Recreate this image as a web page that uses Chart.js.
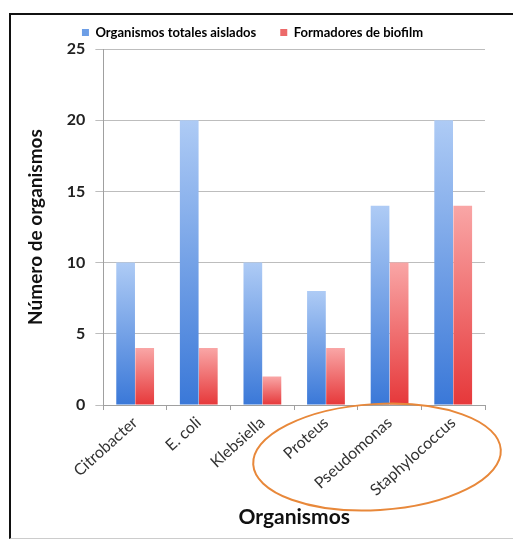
<!DOCTYPE html>
<html>
<head>
<meta charset="utf-8">
<script src="https://cdn.jsdelivr.net/npm/chart.js@4.4.0/dist/chart.umd.min.js"></script>
<style>
  html, body { margin: 0; padding: 0; background: #ffffff; }
  #wrap { position: relative; width: 513px; height: 542px; }
  #frame {
    position: absolute; left: 9px; top: 13px; right: -4px; bottom: 3px;
    border-left: 2px solid #111; border-top: 2px solid #111; border-bottom: 1px solid #ccc;
  }
  canvas { position: absolute; left: 0; top: 0; }
</style>
</head>
<body>
<div id="wrap">
  <div id="frame"></div>
  <canvas id="chart" width="513" height="542"></canvas>
</div>
<script>
// Chart data
const categories = ['Citrobacter', 'E. coli', 'Klebsiella', 'Proteus', 'Pseudomonas', 'Staphylococcus'];
const totalIsolated = [10, 20, 10, 8, 14, 20];
const biofilmFormers = [4, 4, 2, 4, 10, 14];
const yTicks = [0, 5, 10, 15, 20, 25];

const FONT = "Lato, 'Open Sans', sans-serif";

// vertical gradient per bar, light at the bar top
function barGradient(ctx, top, bottom) {
  const chart = ctx.chart;
  const y = chart.scales.y;
  if (!chart.chartArea || !y || ctx.raw === undefined) return bottom;
  const y0 = y.getPixelForValue(ctx.raw);
  const y1 = y.getPixelForValue(0);
  const g = chart.ctx.createLinearGradient(0, y0, 0, y1);
  g.addColorStop(0, top);
  g.addColorStop(1, bottom);
  return g;
}

// orange ellipse round the last three labels
const ellipsePlugin = {
  id: 'ellipse',
  afterDraw(chart) {
    const area = chart.chartArea;
    const c = chart.ctx;
    c.save();
    c.beginPath();
    c.ellipse(area.right - 108, area.bottom + 52, 124, 53, -0.06, 0, Math.PI * 2);
    c.strokeStyle = '#e8883a';
    c.lineWidth = 2;
    c.stroke();
    c.restore();
  }
};

new Chart(document.getElementById('chart').getContext('2d'), {
  type: 'bar',
  data: {
    labels: categories,
    datasets: [{
      label: 'Organismos totales aislados',
      data: totalIsolated,
      backgroundColor: ctx => barGradient(ctx, '#aecbf5', '#3a78d8'),
      borderWidth: 0,
      barPercentage: 0.98,
      categoryPercentage: 0.6
    }, {
      label: 'Formadores de biofilm',
      data: biofilmFormers,
      backgroundColor: ctx => barGradient(ctx, '#f9a6a6', '#e6383a'),
      borderWidth: 0,
      barPercentage: 0.98,
      categoryPercentage: 0.6
    }]
  },
  options: {
    responsive: false,
    animation: false,
    layout: { padding: { left: 20, right: 28, top: 2, bottom: 8 } },
    plugins: {
      legend: {
        position: 'top',
        labels: {
          boxWidth: 7,
          boxHeight: 7,
          padding: 24,
          color: '#222',
          font: { family: FONT, size: 13, weight: 'bold' },
          generateLabels(chart) {
            const cols = ['#6d9ee6', '#ec6a6a'];
            return chart.data.datasets.map((ds, i) => ({
              text: ds.label,
              fillStyle: cols[i],
              strokeStyle: cols[i],
              lineWidth: 0,
              datasetIndex: i
            }));
          }
        }
      },
      tooltip: { enabled: false }
    },
    scales: {
      y: {
        min: 0,
        max: 25,
        afterBuildTicks: axis => { axis.ticks = yTicks.map(v => ({ value: v })); },
        grid: { color: '#bdbdbd', lineWidth: 1, tickLength: 8, drawTicks: true },
        border: { color: '#a0a0a0', width: 1 },
        ticks: {
          color: '#222',
          padding: 10,
          font: { family: FONT, size: 16, weight: 'bold' }
        },
        title: {
          display: true,
          text: 'Número de organismos',
          color: '#111',
          padding: { bottom: 10 },
          font: { family: FONT, size: 19, weight: 'bold' }
        }
      },
      x: {
        grid: { display: true, drawOnChartArea: false, color: '#a0a0a0', tickLength: 5, offset: true },
        border: { color: '#a0a0a0', width: 1 },
        ticks: {
          color: '#333',
          maxRotation: 42,
          minRotation: 42,
          padding: 3,
          font: { family: FONT, size: 16 }
        },
        title: {
          display: true,
          text: 'Organismos',
          color: '#111',
          padding: { top: 2 },
          font: { family: FONT, size: 21, weight: 'bold' }
        }
      }
    }
  },
  plugins: [ellipsePlugin]
});
</script>
</body>
</html>
